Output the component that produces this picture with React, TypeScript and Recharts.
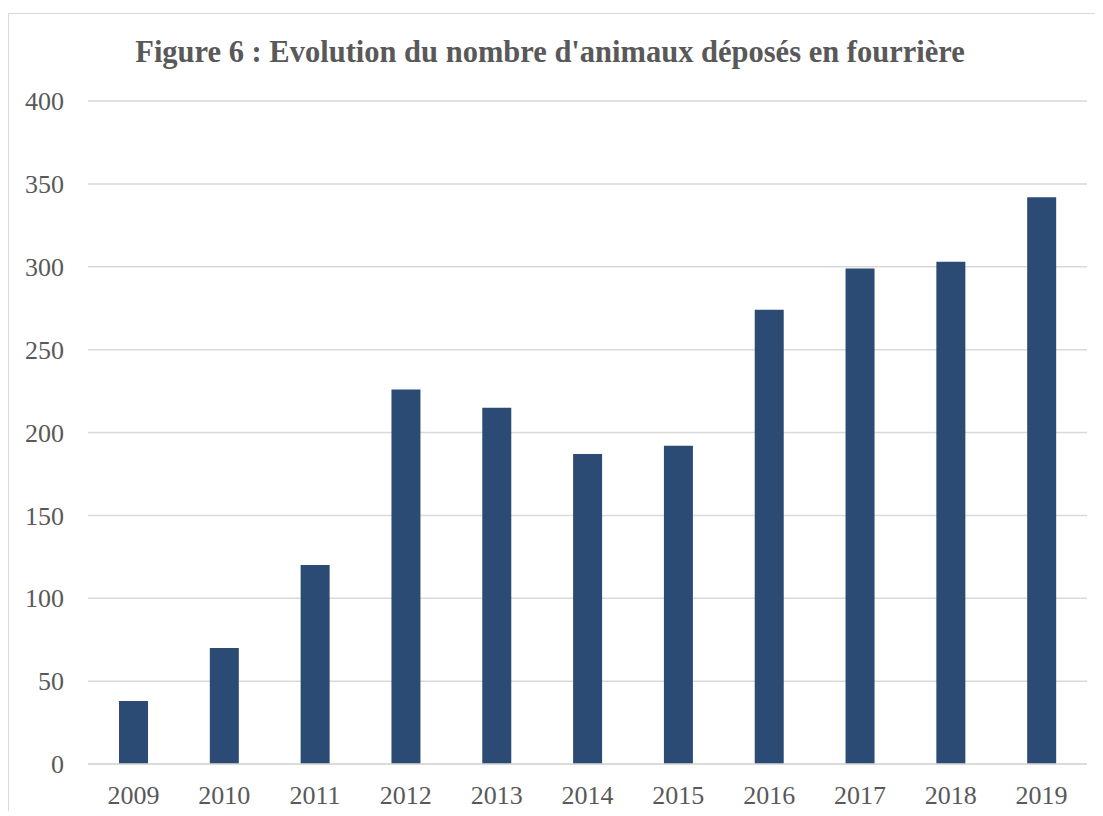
import { BarChart, Bar, XAxis, YAxis, CartesianGrid } from 'recharts';

const years = ['2009', '2010', '2011', '2012', '2013', '2014', '2015', '2016', '2017', '2018', '2019'];
const animaux = [38, 70, 120, 226, 215, 187, 192, 274, 299, 303, 342];
const yTicks = [0, 50, 100, 150, 200, 250, 300, 350, 400];

const data = years.map((year, i) => ({ year, value: animaux[i] }));

const FONT = '"Liberation Serif", "DejaVu Serif", serif';
const TEXT = '#595959';

export default function App() {
  return (
    <div style={{ position: 'relative', top: 5, width: 1095, height: 803, overflow: 'hidden' }}>
      <div
        style={{
          position: 'relative',
          width: 1120,
          height: 830,
          border: '1px solid #d9d9d9',
          background: '#fff',
        }}
      >
        <div
          style={{
            position: 'absolute',
            top: 21,
            left: 0,
            width: 1082,
            textAlign: 'center',
            fontFamily: FONT,
            fontWeight: 'bold',
            fontSize: 30.5,
            color: TEXT,
          }}
        >
          Figure 6 : Evolution du nombre d'animaux déposés en fourrière
        </div>
        <BarChart
          width={1120}
          height={830}
          data={data}
          margin={{ top: 87, right: 42, bottom: 50, left: 0 }}
          barSize={29}
        >
          <CartesianGrid vertical={false} stroke="#d9d9d9" strokeWidth={1.5} />
          <XAxis
            dataKey="year"
            height={30}
            axisLine={{ stroke: '#d9d9d9', strokeWidth: 1.5 }}
            tickLine={false}
            tickMargin={16}
            tick={{ fill: TEXT, fontFamily: FONT, fontSize: 26 }}
          />
          <YAxis
            width={79}
            domain={[0, 400]}
            ticks={yTicks}
            axisLine={false}
            tickLine={false}
            tickMargin={18}
            tick={{ fill: TEXT, fontFamily: FONT, fontSize: 26 }}
          />
          <Bar dataKey="value" fill="#2c4b74" isAnimationActive={false} />
        </BarChart>
      </div>
    </div>
  );
}
